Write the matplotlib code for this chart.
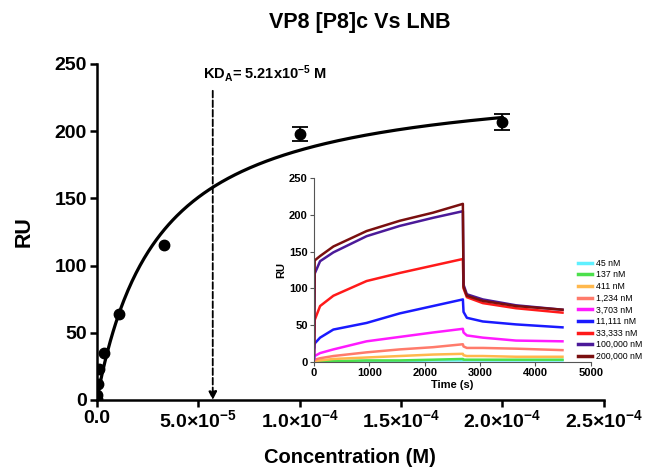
import numpy as np
import matplotlib
matplotlib.use("Agg")
import matplotlib.pyplot as plt
from matplotlib.ticker import FixedLocator, FixedFormatter

plt.rcParams["font.family"] = ["Liberation Sans", "DejaVu Sans"]
plt.rcParams["font.weight"] = "bold"
plt.rcParams["mathtext.fontset"] = "custom"
plt.rcParams["mathtext.rm"] = "Liberation Sans:bold"
plt.rcParams["mathtext.it"] = "Liberation Sans:bold"
plt.rcParams["mathtext.bf"] = "Liberation Sans:bold"

# Steady-state binding data (concentration in M, response in RU)
conc = [4.5e-8, 1.37e-7, 4.11e-7, 1.234e-6, 3.703e-6, 1.1111e-5, 3.3333e-5, 1.0e-4, 2.0e-4]
resp = [1, 4, 12, 23, 35, 64, 115, 198, 207]
resp_err = [0, 0, 0, 0, 0, 0, 0, 5, 6]

# one-site fit parameters
bmax = 242
kd_fit = 3.03e-5
kd_line = 5.72e-5

x_ticks = [0, 5e-5, 1e-4, 1.5e-4, 2e-4, 2.5e-4]
x_labels = ["0.0", r"5.0×10$^{-5}$", r"1.0×10$^{-4}$", r"1.5×10$^{-4}$",
            r"2.0×10$^{-4}$", r"2.5×10$^{-4}$"]

# Sensorgram traces (time in s, RU)
t_pts = [0, 10, 108, 348, 948, 1548, 2148, 2688, 2700, 2760, 3048, 3648, 4488]
traces = {
    "45 nM": [0, 0, 1, 1, 1, 1, 2, 2, 2, 2, 2, 2, 2],
    "137 nM": [0, 0, 1, 1, 2, 2, 3, 4, 3, 3, 3, 3, 3],
    "411 nM": [1, 1, 2, 4, 6, 8, 10, 11, 9, 8, 8, 7, 7],
    "1,234 nM": [2, 3, 5, 8, 13, 17, 20, 24, 21, 19, 19, 18, 16],
    "3,703 nM": [3, 8, 12, 17, 28, 34, 40, 45, 40, 36, 33, 29, 28],
    "11,111 nM": [5, 25, 33, 44, 53, 66, 76, 85, 68, 60, 55, 51, 47],
    "33,333 nM": [10, 57, 76, 90, 110, 121, 131, 140, 100, 88, 80, 73, 67],
    "100,000 nM": [20, 120, 137, 149, 171, 185, 196, 205, 105, 92, 85, 77, 71],
    "200,000 nM": [25, 138, 144, 157, 178, 192, 203, 215, 102, 90, 83, 76, 71],
}
trace_colors = ["#5ff0ff", "#4ce04c", "#ffb84d", "#ff7b6b", "#ff1aff",
                "#1a1aff", "#ff1a1a", "#4b1a99", "#7a0f0f"]

fig = plt.figure(figsize=(6.45, 4.7), dpi=100)
ax = fig.add_axes([0.150, 0.149, 0.786, 0.715])

xf = np.linspace(0, 2.0e-4, 300)
ax.plot(xf, bmax * xf / (kd_fit + xf), color="black", linewidth=2.3, zorder=2)
ax.plot(conc, resp, "o", color="black", markersize=7.5, zorder=3)
err_idx = [i for i, e in enumerate(resp_err) if e > 0]
ax.errorbar([conc[i] for i in err_idx], [resp[i] for i in err_idx],
            yerr=[resp_err[i] for i in err_idx], fmt="none", ecolor="black",
            capsize=6, elinewidth=1.3, capthick=1.3, zorder=3)

ax.annotate("", xy=(kd_line, 0), xytext=(kd_line, 230),
            arrowprops=dict(arrowstyle="-|>", linestyle="--", color="black",
                            linewidth=1.3, mutation_scale=12, shrinkA=0, shrinkB=0))
ax.text(8.3e-5, 243, r"KD$_\mathrm{A}$= 5.21x10$^{-5}$ M", fontsize=10.5,
        fontweight="bold", ha="center", va="center")

ax.set_xlim(0, 2.5e-4)
ax.set_ylim(0, 250)
ax.xaxis.set_major_locator(FixedLocator(x_ticks))
ax.xaxis.set_major_formatter(FixedFormatter(x_labels))
ax.set_yticks([0, 50, 100, 150, 200, 250])
ax.tick_params(axis="both", labelsize=14, width=1.8, length=5, direction="out", pad=2)
for lab in ax.get_xticklabels() + ax.get_yticklabels():
    lab.set_fontweight("bold")
for s in ["top", "right"]:
    ax.spines[s].set_visible(False)
for s in ["left", "bottom"]:
    ax.spines[s].set_linewidth(1.8)

ax.set_xlabel("Concentration (M)", fontsize=14.5, fontweight="bold", labelpad=12)
ax.set_ylabel("RU", fontsize=15.5, fontweight="bold", labelpad=14)
fig.text(0.558, 0.953, "VP8 [P8]c Vs LNB", fontsize=15.5, fontweight="bold",
         ha="center", va="center")

# inset sensorgram
ins = fig.add_axes([0.487, 0.230, 0.429, 0.391])
for (name, vals), col in zip(traces.items(), trace_colors):
    ins.plot(t_pts, vals, color=col, linewidth=1.8, label=name)
ins.set_xlim(0, 5000)
ins.set_ylim(0, 250)
ins.set_xticks([0, 1000, 2000, 3000, 4000, 5000])
ins.set_yticks([0, 50, 100, 150, 200, 250])
ins.tick_params(axis="both", labelsize=8, width=0.8, length=3, color="#555555", pad=1.5)
for lab in ins.get_xticklabels() + ins.get_yticklabels():
    lab.set_fontweight("bold")
for s in ["top", "right"]:
    ins.spines[s].set_visible(False)
for s in ["left", "bottom"]:
    ins.spines[s].set_color("#555555")
    ins.spines[s].set_linewidth(0.8)
ins.set_xlabel("Time (s)", fontsize=8, fontweight="bold", labelpad=1)
ins.set_ylabel("RU", fontsize=8, fontweight="bold", labelpad=2)
ins.patch.set_alpha(0)

leg = ins.legend(loc="upper left", bbox_to_anchor=(0.94, 0.58), fontsize=6.3,
                 frameon=False, handlelength=1.6, handletextpad=0.5,
                 labelspacing=0.3, borderaxespad=0)
for h in leg.get_lines():
    h.set_linewidth(2.5)
for t in leg.get_texts():
    t.set_fontweight("normal")

fig.savefig("out.png", dpi=100)
